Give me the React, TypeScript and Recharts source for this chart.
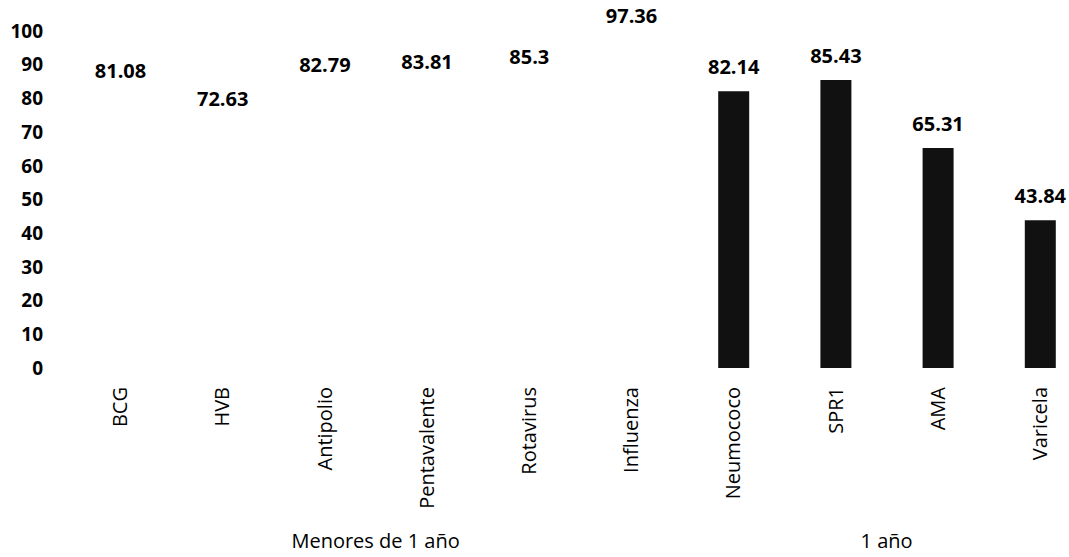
import React from "react";
import { BarChart, Bar, XAxis, YAxis, Cell, LabelList } from "recharts";

const vaccines = [
  "BCG",
  "HVB",
  "Antipolio",
  "Pentavalente",
  "Rotavirus",
  "Influenza",
  "Neumococo",
  "SPR1",
  "AMA",
  "Varicela"
];
const coverage = [81.08, 72.63, 82.79, 83.81, 85.3, 97.36, 82.14, 85.43, 65.31, 43.84];
const groupNames = ["Menores de 1 año", "1 año"];
const groupSizes = [6, 4];
const yTicks = [0, 10, 20, 30, 40, 50, 60, 70, 80, 90, 100];

const groupColors = ["#ffffff", "#111111"];
const FONT = "'Open Sans', sans-serif";
const CHART_W = 1100;
const PLOT_LEFT = 69;
const MARGIN_RIGHT = 9;
const BAND = (CHART_W - PLOT_LEFT - MARGIN_RIGHT) / vaccines.length;

const groupOf = (i: number) => {
  let start = 0;
  for (let g = 0; g < groupSizes.length; g++) {
    if (i < start + groupSizes[g]) return g;
    start += groupSizes[g];
  }
  return groupSizes.length - 1;
};

const data = vaccines.map((name, i) => ({ name, value: coverage[i], group: groupOf(i) }));

const CategoryTick = ({ x, y, payload, index }: any) => {
  let groupLabel = null;
  let start = 0;
  groupSizes.forEach((n, g) => {
    if (index === start) {
      groupLabel = (
        <text
          x={x + ((n - 1) / 2) * BAND}
          y={y + 180}
          textAnchor="middle"
          fontFamily={FONT}
          fontSize={20}
          fill="#000"
        >
          {groupNames[g]}
        </text>
      );
    }
    start += n;
  });
  return (
    <g>
      <text
        x={x}
        y={y + 19}
        dy="0.35em"
        transform={`rotate(-90, ${x}, ${y + 19})`}
        textAnchor="end"
        fontFamily={FONT}
        fontSize={20}
        fill="#000"
      >
        {payload.value}
      </text>
      {groupLabel}
    </g>
  );
};

export default function App() {
  return (
    <div
      style={{
        position: "absolute",
        left: 0,
        top: 0,
        width: 1069,
        height: 557,
        overflow: "hidden",
        background: "#fff"
      }}
    >
      <BarChart
        width={CHART_W}
        height={557}
        data={data}
        margin={{ top: 31, right: MARGIN_RIGHT, bottom: 0, left: 0 }}
      >
        <XAxis
          dataKey="name"
          interval={0}
          axisLine={false}
          tickLine={false}
          tickSize={0}
          tickMargin={0}
          height={189}
          tick={<CategoryTick />}
        />
        <YAxis
          domain={[0, 100]}
          ticks={yTicks}
          width={PLOT_LEFT}
          axisLine={false}
          tickLine={false}
          tickSize={0}
          tickMargin={26}
          tick={{ fontFamily: FONT, fontSize: 19, fontWeight: 700, fill: "#000" }}
        />
        <Bar dataKey="value" barSize={31} isAnimationActive={false}>
          {data.map((d) => (
            <Cell key={d.name} fill={groupColors[d.group]} />
          ))}
          <LabelList
            dataKey="value"
            position="top"
            offset={17}
            fill="#000"
            fontFamily={FONT}
            fontSize={20}
            fontWeight={700}
          />
        </Bar>
      </BarChart>
    </div>
  );
}
